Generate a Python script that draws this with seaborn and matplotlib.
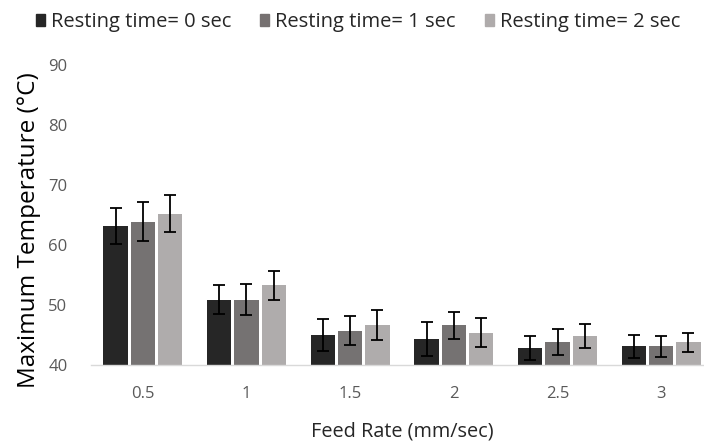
import matplotlib
matplotlib.use("Agg")
import matplotlib.pyplot as plt
import seaborn as sns
import pandas as pd
import numpy as np

feed_rates = ["0.5", "1", "1.5", "2", "2.5", "3"]
series_names = ["Resting time= 0 sec", "Resting time= 1 sec", "Resting time= 2 sec"]
temp_0 = [63.2, 50.9, 45.0, 44.3, 42.9, 43.1]
temp_1 = [63.9, 50.9, 45.7, 46.6, 43.8, 43.1]
temp_2 = [65.2, 53.3, 46.7, 45.4, 44.8, 43.8]
err_0 = [3.0, 2.4, 2.6, 2.8, 2.0, 1.9]
err_1 = [3.2, 2.6, 2.4, 2.3, 2.2, 1.8]
err_2 = [3.1, 2.4, 2.5, 2.4, 2.0, 1.6]
colors = ["#262626", "#767171", "#AFABAB"]

sns.set_theme(style="white")
plt.rcParams["font.family"] = ["Open Sans", "DejaVu Sans"]

rows = []
for name, vals, errs in zip(series_names, [temp_0, temp_1, temp_2], [err_0, err_1, err_2]):
    for fr, v, e in zip(feed_rates, vals, errs):
        rows.append({"Feed": fr, "Series": name, "Temp": v, "Err": e})
df = pd.DataFrame(rows)

fig = plt.figure(figsize=(7.04, 4.43), dpi=100)
ax = fig.add_axes([91 / 704, 78 / 443, 622 / 704, 300 / 443])

sns.barplot(data=df, x="Feed", y="Temp", hue="Series", order=feed_rates,
            hue_order=series_names, palette=colors, width=0.79, gap=0.1,
            errorbar=None, linewidth=0, ax=ax, legend=False)

# error bars at bar centres
bars_per_series = len(feed_rates)
for i, name in enumerate(series_names):
    sub = df[df["Series"] == name]
    patches = ax.patches[i * bars_per_series:(i + 1) * bars_per_series]
    xs = [p.get_x() + p.get_width() / 2 for p in patches]
    ax.errorbar(xs, sub["Temp"].values, yerr=sub["Err"].values, fmt="none",
                ecolor="black", elinewidth=1.3, capsize=4.3, capthick=1.3, zorder=5)

ax.set_xlim(-0.5, 5.5)
ax.set_ylim(40, 90)
ax.set_yticks([40, 50, 60, 70, 80, 90])
for s in ["top", "right", "left"]:
    ax.spines[s].set_visible(False)
ax.spines["bottom"].set_color("#d9d9d9")
ax.spines["bottom"].set_linewidth(1.0)
ax.tick_params(axis="both", length=0, labelsize=12, labelcolor="#595959")
ax.tick_params(axis="y", pad=17)
ax.tick_params(axis="x", pad=15)
ax.set_xlabel("Feed Rate (mm/sec)", fontsize=14.3, color="#262626", labelpad=14)
ax.set_ylabel("Maximum Temperature (°C)", fontsize=17.5, color="black")
ax.yaxis.set_label_coords(-0.081, 0.45)

handles = [plt.Rectangle((0, 0), 1, 1, color=c) for c in colors]
fig.legend(handles, series_names, loc="center", bbox_to_anchor=(358 / 704, 1 - 22 / 443),
           ncol=3, frameon=False, fontsize=14.5, handlelength=0.45, handleheight=0.6,
           handletextpad=0.3, columnspacing=1.45, labelcolor="#262626")

fig.savefig("out.png", dpi=100)
